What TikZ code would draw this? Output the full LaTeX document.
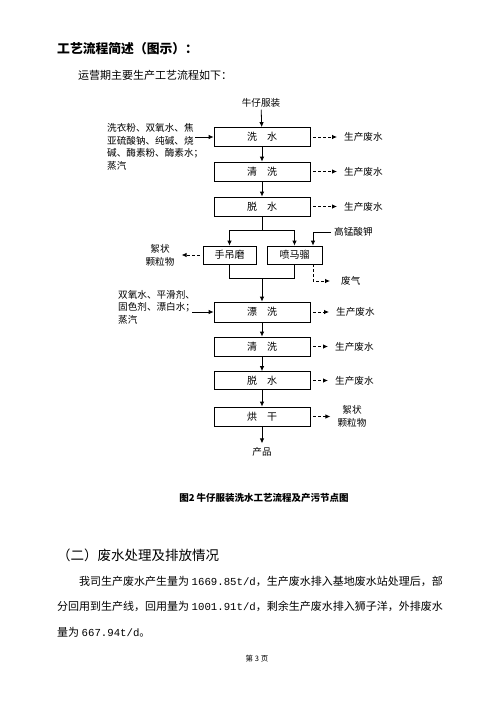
\documentclass[tikz,border=0pt]{standalone}
\usepackage{fontspec}
\setmainfont{Noto Sans CJK SC}
\newfontfamily\numfont{Liberation Mono}
\usetikzlibrary{arrows.meta}
\XeTeXlinebreaklocale "zh"
\XeTeXlinebreakskip=0pt plus 2pt

\tikzset{
	proc/.style={draw, line width=0.8pt, minimum width=96pt, minimum height=19pt, inner sep=0pt, font=\fontsize{10}{12}\selectfont},
	lbl/.style={inner sep=0pt, font=\fontsize{9.6}{12.7}\selectfont, align=left},
	flow/.style={line width=0.8pt, -{Latex[length=5pt,width=4.5pt]}},
	waste/.style={flow, densely dashed, shorten <=3pt, shorten >=7pt},
	bodyline/.style={anchor=west, inner sep=0pt, align=justify, font=\fontsize{11}{13}\selectfont},
}

\begin{document}
\begin{tikzpicture}[x=1pt, y=-1pt]
	\useasboundingbox (0,0) rectangle (500,707);
	% text before the chart
	\node[anchor=west, inner sep=0pt, font=\fontsize{12.8}{14}\selectfont\bfseries] (title) at (57,49) {工艺流程简述（图示）：};
	\node[anchor=west, inner sep=0pt, font=\fontsize{11}{13}\selectfont] (intro) at (78,75) {运营期主要生产工艺流程如下：};

	% main column
	\node[lbl] (jeans) at (261,103) {牛仔服装};
	\node[proc] (w1) at (262,137) {洗\hspace{1em}水};
	\node[proc] (w2) at (262,171.5) {清\hspace{1em}洗};
	\node[proc] (w3) at (262,206.5) {脱\hspace{1em}水};
	\node[proc, minimum width=53pt, minimum height=18pt] (m1) at (229.5,255) {手吊磨};
	\node[proc, minimum width=55pt, minimum height=18pt] (m2) at (294.5,255) {喷马骝};
	\node[proc, minimum height=20pt] (r1) at (262,312) {漂\hspace{1em}洗};
	\node[proc] (r2) at (262,346.5) {清\hspace{1em}洗};
	\node[proc, minimum height=18pt] (r3) at (262,380.5) {脱\hspace{1em}水};
	\node[proc] (r4) at (262,416.5) {烘\hspace{1em}干};
	\node[lbl] (prod) at (262,452) {产品};

	\draw[flow, shorten <=2pt] (jeans) -- (w1);
	\draw[flow] (w1) -- (w2);
	\draw[flow] (w2) -- (w3);
	\draw[line width=0.8pt] (w3.south) -- ++(0,14) coordinate (split);
	\draw[line width=0.8pt] (split -| m1) -- (split -| m2);
	\draw[flow] (split -| m1) -- (m1);
	\draw[flow] (split -| m2) -- (m2);
	\coordinate (join) at (262,278);
	\draw[line width=0.8pt] (m1) -- (join -| m1) -- (join -| m2) -- (m2);
	\draw[flow] (join) -- (r1);
	\draw[flow] (r1) -- (r2);
	\draw[flow] (r2) -- (r3);
	\draw[flow] (r3) -- (r4);
	\draw[flow, shorten >=4pt] (r4) -- (prod);

	% inputs on the left
	\node[lbl, anchor=north west] (chem1) at (107,123) {洗衣粉、双氧水、焦\\亚硫酸钠、纯碱、烧\\碱、酶素粉、酶素水；\\蒸汽};
	\coordinate (in1) at (195,137);
	\draw[flow] (in1) -- (w1);
	\node[lbl, anchor=north west] (chem2) at (118,290) {双氧水、平滑剂、\\固色剂、漂白水；\\蒸汽};
	\coordinate (in2) at (192,312);
	\draw[flow] (in2) -- (r1);
	\node[lbl, anchor=west] (kmn) at (334,232) {高锰酸钾};
	\coordinate (kx) at (313,0);
	\draw[flow, shorten <=3pt] (kmn.west) -| (m2.north -| kx);

	% outputs
	\node[lbl, anchor=west] (ww1) at (344,137) {生产废水};
	\node[lbl, anchor=west] (ww2) at (344,171.5) {生产废水};
	\node[lbl, anchor=west] (ww3) at (344,206.5) {生产废水};
	\node[lbl, anchor=west] (wr1) at (336,312) {生产废水};
	\node[lbl, anchor=west] (wr2) at (335,346.5) {生产废水};
	\node[lbl, anchor=west] (wr3) at (335,380.5) {生产废水};
	\node[lbl, align=center] (floc1) at (160,255) {絮状\\颗粒物};
	\node[lbl, align=center] (floc2) at (352,416.5) {絮状\\颗粒物};
	\node[lbl, anchor=west] (gas) at (341,281) {废气};
	\draw[waste] (w1) -- (ww1);
	\draw[waste] (w2) -- (ww2);
	\draw[waste] (w3) -- (ww3);
	\draw[waste] (r1) -- (wr1);
	\draw[waste] (r2) -- (wr2);
	\draw[waste] (r3) -- (wr3);
	\draw[waste] (m1) -- (floc1);
	\draw[waste] (r4) -- (floc2);
	\draw[waste, shorten <=0pt, shorten >=11pt] (m2.south -| kx) |- (gas);

	\node[font=\fontsize{9.5}{11}\selectfont\bfseries, inner sep=0pt] (cap) at (264,498) {图2\ 牛仔服装洗水工艺流程及产污节点图};

	% text after the chart
	\node[anchor=west, inner sep=0pt, font=\fontsize{13.5}{15}\selectfont] (sec) at (57,555) {（二）废水处理及排放情况};
	\node[bodyline, text width=378pt] (p1) at (79,581) {\parfillskip=0pt 我司生产废水产生量为 {\numfont\fontsize{10.7}{13}\selectfont 1669.85t/d}，生产废水排入基地废水站处理后，部};
	\node[bodyline, text width=400pt] (p2) at (57,606) {\parfillskip=0pt 分回用到生产线，回用量为 {\numfont\fontsize{10.7}{13}\selectfont 1001.91t/d}，剩余生产废水排入狮子洋，外排废水};
	\node[bodyline] (p3) at (57,632) {量为 {\numfont\fontsize{10.7}{13}\selectfont 667.94t/d}。};
	\node[inner sep=0pt, font=\fontsize{7.5}{9}\selectfont] (page) at (257,659) {第 3 页};
\end{tikzpicture}
\end{document}
